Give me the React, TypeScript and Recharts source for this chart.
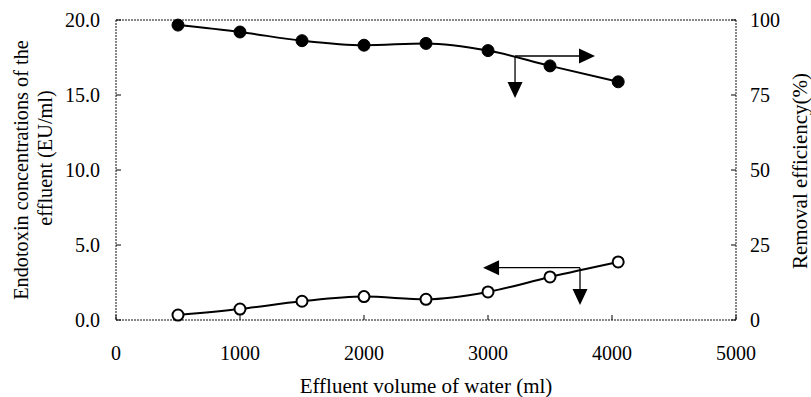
import React from "react";
import { LineChart, Line, XAxis, YAxis, ReferenceLine, Label } from "recharts";

// Effluent volume (ml)
const volume = [500, 1000, 1500, 2000, 2500, 3000, 3500, 4050];
// Endotoxin concentration of the effluent (EU/ml), left axis
const concentration = [0.33, 0.73, 1.25, 1.56, 1.38, 1.87, 2.87, 3.87];
// Removal efficiency (%), right axis
const removal = [98.3, 96.0, 93.1, 91.6, 92.2, 89.8, 84.7, 79.4];

const xTicks = [0, 1000, 2000, 3000, 4000, 5000];
const leftTicks = [0, 5, 10, 15, 20];
const rightTicks = [0, 25, 50, 75, 100];

// arrow annotations in data units (x, left axis y): start -> tip
const arrows = [
  [3218, 17.6, 3863, 17.6],
  [3218, 17.6, 3218, 14.8],
  [3742, 3.49, 2960, 3.49],
  [3742, 3.49, 3742, 1.0],
];

const data = volume.map((v, i) => ({
  volume: v,
  concentration: concentration[i],
  removal: removal[i],
}));

const FONT = "'Liberation Serif', 'Times New Roman', serif";
const frame = { stroke: "#111", strokeDasharray: "2 1" };

const Arrow = (props: any) => {
  const { x1, y1, x2, y2 } = props;
  const len = Math.hypot(x2 - x1, y2 - y1) || 1;
  const ux = (x2 - x1) / len;
  const uy = (y2 - y1) / len;
  const head = 16;
  const half = 7.5;
  const bx = x2 - ux * head;
  const by = y2 - uy * head;
  const px = -uy * half;
  const py = ux * half;
  return (
    <g>
      <line x1={x1} y1={y1} x2={bx} y2={by} stroke="#000" strokeWidth={1.3} />
      <polygon points={`${x2},${y2} ${bx + px},${by + py} ${bx - px},${by - py}`} fill="#000" />
    </g>
  );
};

const XTick = ({ x, y, payload }: any) => (
  <g>
    <line x1={x} y1={y - 26} x2={x} y2={y - 31} stroke="#000" />
    <text x={x} y={y} dy="0.71em" textAnchor="middle" fontSize={20} fill="#000" fontFamily={FONT}>
      {payload.value}
    </text>
  </g>
);

const LeftTick = ({ x, y, payload }: any) => (
  <g>
    <line x1={x + 16} y1={y} x2={x + 21} y2={y} stroke="#000" />
    <text x={x} y={y} dy="0.35em" textAnchor="end" fontSize={20} fill="#000" fontFamily={FONT}>
      {payload.value.toFixed(1)}
    </text>
  </g>
);

const RightTick = ({ x, y, payload }: any) => (
  <g>
    <line x1={x - 14} y1={y} x2={x - 19} y2={y} stroke="#000" />
    <text x={x} y={y} dy="0.35em" textAnchor="start" fontSize={20} fill="#000" fontFamily={FONT}>
      {payload.value}
    </text>
  </g>
);

export default function App() {
  return (
    <div style={{ position: "absolute", left: 0, top: 0, fontFamily: FONT }}>
      <LineChart width={811} height={397} data={data} margin={{ top: 20, right: 15, bottom: 37, left: 56 }}>
        <XAxis
          dataKey="volume"
          type="number"
          domain={[0, 5000]}
          ticks={xTicks}
          height={40}
          tickSize={0}
          tickMargin={26}
          tickLine={false}
          axisLine={frame}
          tick={<XTick />}
        >
          <Label
            content={() => (
              <text x={426} y={393} textAnchor="middle" fontSize={21} fill="#000" fontFamily={FONT}>
                Effluent volume of water (ml)
              </text>
            )}
          />
        </XAxis>
        <YAxis
          yAxisId="left"
          domain={[0, 20]}
          ticks={leftTicks}
          width={60}
          tickSize={0}
          tickMargin={16}
          tickLine={false}
          axisLine={frame}
          tick={<LeftTick />}
        >
          <Label
            content={() => (
              <g fontSize={20.3} fill="#000" fontFamily={FONT}>
                <text x={21} y={170} transform="rotate(-90 21 170)" textAnchor="middle" dominantBaseline="central">
                  Endotoxin concentrations of the
                </text>
                <text x={45} y={158} transform="rotate(-90 45 158)" textAnchor="middle" dominantBaseline="central">
                  effluent (EU/ml)
                </text>
              </g>
            )}
          />
        </YAxis>
        <YAxis
          yAxisId="right"
          orientation="right"
          domain={[0, 100]}
          ticks={rightTicks}
          width={60}
          tickSize={0}
          tickMargin={14}
          tickLine={false}
          axisLine={frame}
          tick={<RightTick />}
        >
          <Label
            content={() => (
              <text
                x={800}
                y={171}
                transform="rotate(-90 800 171)"
                textAnchor="middle"
                dominantBaseline="central"
                fontSize={21}
                fill="#000"
                fontFamily={FONT}
              >
                Removal efficiency(%)
              </text>
            )}
          />
        </YAxis>
        <ReferenceLine yAxisId="left" y={20} {...frame} />
        {arrows.map((a, i) => (
          <ReferenceLine
            key={i}
            yAxisId="left"
            segment={[
              { x: a[0], y: a[1] },
              { x: a[2], y: a[3] },
            ]}
            shape={Arrow}
          />
        ))}
        <Line
          yAxisId="right"
          type="monotone"
          dataKey="removal"
          stroke="#000"
          strokeWidth={2}
          dot={{ r: 6, fill: "#000", stroke: "#000", strokeWidth: 1 }}
          isAnimationActive={false}
        />
        <Line
          yAxisId="left"
          type="monotone"
          dataKey="concentration"
          stroke="#000"
          strokeWidth={2}
          dot={{ r: 5.5, fill: "#fff", stroke: "#000", strokeWidth: 2 }}
          isAnimationActive={false}
        />
      </LineChart>
    </div>
  );
}
